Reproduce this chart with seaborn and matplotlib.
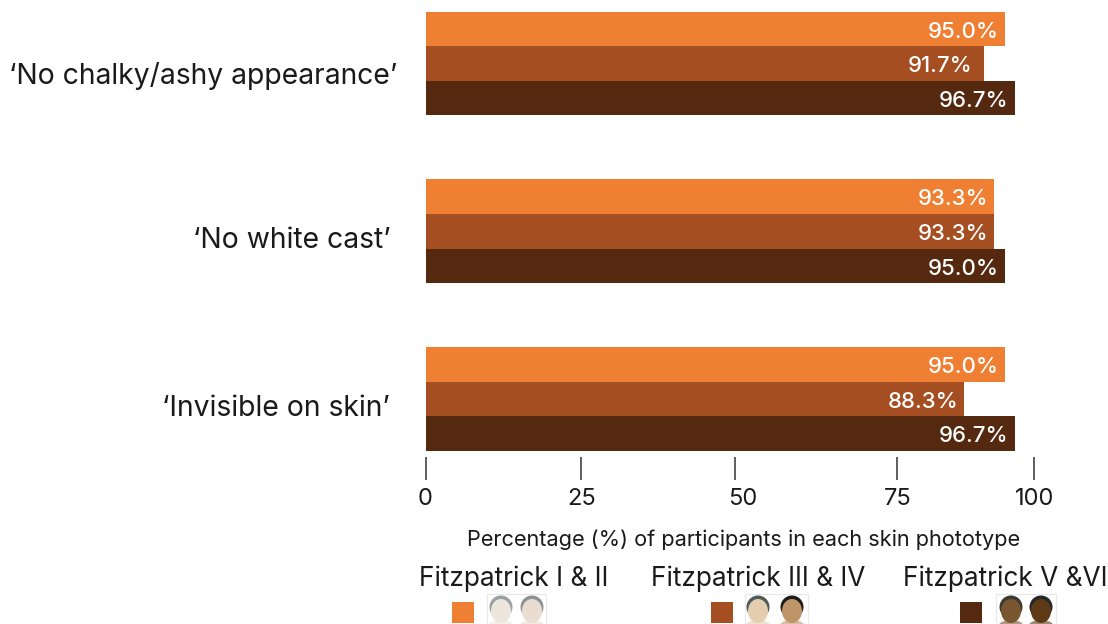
import matplotlib
matplotlib.use("Agg")
import matplotlib.pyplot as plt
import pandas as pd
import seaborn as sns
from matplotlib.patches import Ellipse, Rectangle
from matplotlib.transforms import ScaledTranslation

claims = ["\u2018No chalky/ashy appearance\u2019", "\u2018No white cast\u2019", "\u2018Invisible on skin\u2019"]
groups = ["Fitzpatrick I & II", "Fitzpatrick III & IV", "Fitzpatrick V &VI"]
type_1_2 = [95.0, 93.3, 95.0]
type_3_4 = [91.7, 93.3, 88.3]
type_5_6 = [96.7, 95.0, 96.7]
colors = ["#EF7F33", "#A54E22", "#542910"]
tick_values = [0, 25.4, 50.8, 77.4, 99.8]
label_values = [-0.2, 25.5, 52.0, 77.5, 99.9]
tick_labels = ["0", "25", "50", "75", "100"]

df = pd.DataFrame({"claim": claims * 3,
                   "group": [g for g in groups for _ in claims],
                   "value": type_1_2 + type_3_4 + type_5_6})

W, H = 1108, 624
FONT = "Inter"
sns.set_theme(style="white")
plt.rcParams["font.family"] = [FONT, "DejaVu Sans"]
fig = plt.figure(figsize=(W / 100, H / 100), dpi=100, facecolor="white")
L, R, T, B = 425, 1035, 0, 457
ax = fig.add_axes([L / W, 1 - B / H, (R - L) / W, (B - T) / H])
sns.barplot(data=df, y="claim", x="value", hue="group", order=claims, hue_order=groups,
            palette=colors, width=0.618, saturation=1, gap=0, legend=False, ax=ax,
            edgecolor="none", linewidth=0)
ax.set_xlim(0, 100)
ax.set_ylim((B - 63.5) / 167.75, -63.5 / 167.75)
sns.despine(ax=ax, left=True, bottom=True, top=True, right=True)
ax.set_xlabel("")
ax.set_ylabel("")

for cont in ax.containers:
    anns = ax.bar_label(cont, labels=[f"{v:.1f}%" for v in cont.datavalues], label_type="edge",
                        padding=-55, color="white", fontsize=16, fontweight="medium", fontfamily=FONT)
    for a in anns:
        a.xyann = (-55, -2)

ax.xaxis.remove_overlapping_locs = False
ax.set_xticks(tick_values, [""] * 5)
ax.tick_params(axis="x", which="major", direction="out", length=16.5, width=1.1, color="#333333", bottom=True)
ax.set_xticks(label_values, tick_labels, minor=True)
ax.tick_params(axis="x", which="minor", length=0, pad=22.5, labelsize=17, labelcolor="#1a1a1a")

ax.tick_params(axis="y", length=0, pad=28, labelsize=20.4, labelcolor="#1a1a1a")
shifts = [(11, -10), (5, -6), (4, -6)]
for lab, (dx, dy) in zip(ax.get_yticklabels(), shifts):
    lab.set_transform(lab.get_transform() + ScaledTranslation(dx / 100, dy / 100, fig.dpi_scale_trans))

ov = fig.add_axes([0, 0, 1, 1], facecolor="none")
ov.set_xlim(0, W); ov.set_ylim(H, 0); ov.axis("off")
ov.text(743.5, 539.5, "Percentage (%) of participants in each skin phototype",
        ha="center", va="center", fontsize=15.65, color="#1a1a1a")
legend_x = [419, 651, 903]
swatch_x = [452, 711, 960]
for x, sx, g, c in zip(legend_x, swatch_x, groups, colors):
    ov.text(x, 578.5, g, ha="left", va="center", fontsize=18.9, color="#1a1a1a")
    ov.add_patch(Rectangle((sx, 602), 22, 21, color=c, lw=0))

boxes = [(487, 59), (745, 63), (996, 60)]
for x0, w in boxes:
    ov.add_patch(Rectangle((x0, 594), w, 32, fc="white", ec="#E8E8E8", lw=0.8))

faces = [(501, "#EDE6DD", "#9AA0A3"), (532, "#E8DDD0", "#8E9396"),
         (758, "#E3CDAE", "#4F5B5B"), (792, "#BE9468", "#1E1E1E"),
         (1011, "#7A5630", "#3A3A30"), (1041, "#5E3A17", "#25282A")]
for x, skin, hair in faces:
    ov.add_patch(Ellipse((x, 626), 25, 12, color=skin, lw=0, alpha=0.6))
    ov.add_patch(Ellipse((x, 607), 23, 23, color=hair, lw=0))
    ov.add_patch(Ellipse((x, 611), 20, 24, color=skin, lw=0))

fig.savefig("out.png", dpi=100)
